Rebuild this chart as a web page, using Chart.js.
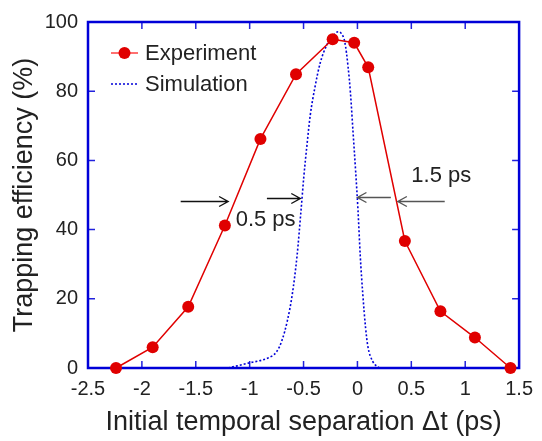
<!DOCTYPE html>
<html>
<head>
<meta charset="utf-8">
<script src="https://cdn.jsdelivr.net/npm/chart.js@4.4.1/dist/chart.umd.min.js"></script>
<style>
  html, body { margin: 0; padding: 0; background: #fff; }
</style>
</head>
<body>
<canvas id="chart" width="542" height="441"></canvas>
<script>
// ================= DATA =================

const expX = [-2.24, -1.90, -1.57, -1.23, -0.90, -0.57, -0.23, -0.03, 0.10, 0.44, 0.77, 1.09, 1.42];
const expY = [0, 6.0, 17.7, 41.2, 66.2, 84.9, 95.0, 94.0, 86.9, 36.7, 16.4, 8.8, 0];

const simX = [-1.20, -1.00, -0.83, -0.75, -0.70, -0.65, -0.605, -0.56, -0.523, -0.498, -0.468, -0.438,
              -0.392, -0.346, -0.285, -0.224, -0.178, -0.148, -0.117, -0.087, -0.065, -0.041, -0.017,
              0.005, 0.026, 0.05, 0.075, 0.097, 0.142, 0.203];
const simY = [0, 1.5, 2.9, 4.7, 8.0, 13.7, 21.2, 32.5, 45.7, 55.1, 64.5, 73.0,
              81.5, 88.1, 93.3, 96.1, 97.2, 96.6, 94.2, 87.1, 79.6, 68.3, 57.0,
              45.7, 32.5, 21.2, 11.8, 6.2, 1.9, 0];

const xTicks = [-2.5, -2, -1.5, -1, -0.5, 0, 0.5, 1, 1.5];
const yTicks = [0, 20, 40, 60, 80, 100];

// width markers (data units): arrow from -> to, at height
const arrowFrom = [-1.64, -0.84, 0.31, 0.81];
const arrowTo   = [-1.20, -0.53, 0.00, 0.375];
const arrowAt   = [48.2, 49.0, 49.3, 48.2];

const noteText = ["0.5 ps", "1.5 ps"];
const noteX = [-1.13, 0.50];
const noteY = [41.1, 53.8];

const seriesNames = ["Experiment", "Simulation"];

const RED = "#e00000";
const BLUE = "#0000d8";
const FONT = "'Liberation Sans', Arial, sans-serif";


// ================= DECORATION PLUGIN =================

const decor = {
  id: "decor",

  beforeDatasetsDraw(chart) {
    const { ctx, chartArea: a, scales: { x, y } } = chart;
    ctx.save();

    // inward tick marks on all four sides
    ctx.strokeStyle = "#2222dd";
    ctx.lineWidth = 1.5;
    ctx.beginPath();
    x.ticks.forEach((t) => {
      const px = x.getPixelForValue(t.value);
      ctx.moveTo(px, a.bottom); ctx.lineTo(px, a.bottom - 7);
      ctx.moveTo(px, a.top); ctx.lineTo(px, a.top + 7);
    });
    y.ticks.forEach((t) => {
      const py = y.getPixelForValue(t.value);
      ctx.moveTo(a.left, py); ctx.lineTo(a.left + 7, py);
      ctx.moveTo(a.right, py); ctx.lineTo(a.right - 7, py);
    });
    ctx.stroke();

    // frame
    ctx.strokeStyle = BLUE;
    ctx.lineWidth = 2.5;
    ctx.strokeRect(a.left, a.top, a.right - a.left, a.bottom - a.top);
    ctx.restore();
  },

  afterDatasetsDraw(chart) {
    const { ctx, scales: { x, y } } = chart;
    ctx.save();

    // arrows
    arrowFrom.forEach((v, i) => {
      const x0 = x.getPixelForValue(v);
      const x1 = x.getPixelForValue(arrowTo[i]);
      const py = Math.round(y.getPixelForValue(arrowAt[i])) + 0.5;
      const dir = x1 > x0 ? 1 : -1;
      ctx.strokeStyle = i < 2 ? "#111" : "#555";
      ctx.lineWidth = 1.4;
      ctx.beginPath();
      ctx.moveTo(x0, py); ctx.lineTo(x1, py);
      ctx.moveTo(x1 - dir * 9, py - 5); ctx.lineTo(x1, py); ctx.lineTo(x1 - dir * 9, py + 5);
      ctx.stroke();
    });

    // width labels
    ctx.fillStyle = "#222";
    ctx.font = "22px " + FONT;
    ctx.textBaseline = "alphabetic";
    ctx.textAlign = "left";
    noteText.forEach((txt, i) => {
      ctx.fillText(txt, x.getPixelForValue(noteX[i]), y.getPixelForValue(noteY[i]));
    });

    // legend (upper left)
    const lx = chart.chartArea.left + 23;
    const ly = [53, 84];
    ctx.lineWidth = 1.5;
    ctx.strokeStyle = "#ff4040";
    ctx.beginPath(); ctx.moveTo(lx, ly[0]); ctx.lineTo(lx + 27, ly[0]); ctx.stroke();
    ctx.fillStyle = RED;
    ctx.beginPath(); ctx.arc(lx + 13.5, ly[0], 6, 0, Math.PI * 2); ctx.fill();
    ctx.strokeStyle = BLUE;
    ctx.setLineDash([2, 2]);
    ctx.beginPath(); ctx.moveTo(lx, ly[1]); ctx.lineTo(lx + 27, ly[1]); ctx.stroke();
    ctx.setLineDash([]);

    ctx.fillStyle = "#222";
    ctx.textBaseline = "middle";
    seriesNames.forEach((n, i) => ctx.fillText(n, lx + 34, ly[i] + 1));

    ctx.restore();
  }
};


// ================= CHART =================

const ctx = document.getElementById("chart").getContext("2d");

new Chart(ctx, {
  type: "scatter",
  data: {
    datasets: [
      {
        label: seriesNames[0],
        data: expX.map((v, i) => ({ x: v, y: expY[i] })),
        showLine: true,
        borderColor: RED,
        borderWidth: 1.5,
        backgroundColor: RED,
        pointRadius: 6,
        pointBorderWidth: 0,
        clip: false
      },
      {
        label: seriesNames[1],
        data: simX.map((v, i) => ({ x: v, y: simY[i] })),
        showLine: true,
        borderColor: BLUE,
        borderWidth: 1.6,
        borderDash: [2, 2],
        pointRadius: 0,
        cubicInterpolationMode: "monotone",
        clip: false
      }
    ]
  },
  options: {
    responsive: false,
    animation: false,
    devicePixelRatio: 1,
    layout: { padding: { top: 15, right: 18, left: 0, bottom: 0 } },
    plugins: {
      legend: { display: false },
      tooltip: { enabled: false }
    },
    scales: {
      x: {
        type: "linear",
        min: -2.5,
        max: 1.5,
        afterBuildTicks: (s) => { s.ticks = xTicks.map((v) => ({ value: v })); },
        afterFit: (s) => { s.height = 73; },
        grid: { display: false, drawTicks: false },
        border: { display: false },
        ticks: {
          padding: 9,
          color: "#222",
          font: { family: FONT, size: 20 },
          callback: (v) => String(v)
        },
        title: {
          display: true,
          text: "Initial temporal separation \u0394t (ps)",
          color: "#222",
          font: { family: FONT, size: 27 },
          padding: { top: 0, bottom: 2 }
        }
      },
      y: {
        min: 0,
        max: 100,
        afterBuildTicks: (s) => { s.ticks = yTicks.map((v) => ({ value: v })); },
        afterFit: (s) => { s.width = 88; },
        grid: { display: false, drawTicks: false },
        border: { display: false },
        ticks: {
          padding: 10,
          color: "#222",
          font: { family: FONT, size: 20 },
          callback: (v) => String(v)
        },
        title: {
          display: true,
          text: "Trapping efficiency (%)",
          color: "#222",
          font: { family: FONT, size: 27 },
          padding: { top: 8, bottom: 0 }
        }
      }
    }
  },
  plugins: [decor]
});
</script>
</body>
</html>
